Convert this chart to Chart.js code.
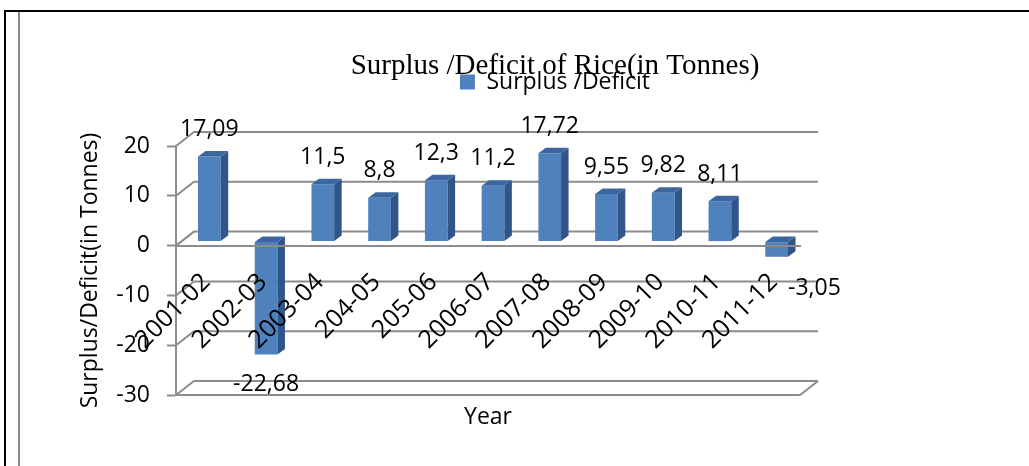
<!DOCTYPE html>
<html lang="en">
<head>
<meta charset="UTF-8">
<title>Surplus /Deficit of Rice</title>
<script src="https://cdn.jsdelivr.net/npm/chart.js"></script>
<style>
  body { margin: 0; background: #fff; }
  #wrap { position: relative; width: 1029px; height: 466px; overflow: hidden; }
  .rule { position: absolute; }
  #topRule { left: 4px; top: 10px; width: 1025px; height: 2px; background: #000; }
  #leftRule { left: 4px; top: 10px; width: 2px; height: 456px; background: #000; }
  #innerRule { left: 18px; top: 12px; width: 2px; height: 454px; background: #8a8a8a; }
  canvas { position: absolute; left: 0; top: 0; }
</style>
</head>
<body>
<div id="wrap">
  <div class="rule" id="topRule"></div>
  <div class="rule" id="leftRule"></div>
  <div class="rule" id="innerRule"></div>
  <canvas id="riceChart" width="1029" height="466"></canvas>
</div>
<script>
// data
const years = ['2001-02', '2002-03', '2003-04', '204-05', '205-06', '2006-07', '2007-08', '2008-09', '2009-10', '2010-11', '2011-12'];
const surplus = [17.09, -22.68, 11.5, 8.8, 12.3, 11.2, 17.72, 9.55, 9.82, 8.11, -3.05];
const yTicks = [-30, -20, -10, 0, 10, 20];

const GRID = '#8c8c8c';
const FONT = 'Open Sans';
const wallDepth = { dx: 18, dy: -14 };   // back wall offset
const barShift = { dx: 5, dy: -4 };      // bars sit a little behind the front plane
const barDepth = { dx: 7.5, dy: -5.5 };  // depth of each column

Chart.defaults.font.family = FONT;
Chart.defaults.color = '#000';

// fake 3D: back wall + floor, then column sides/tops and the value labels
const pseudo3d = {
    id: 'pseudo3d',
    beforeDatasetsDraw(chart) {
        const ctx = chart.ctx;
        const y = chart.scales.y;
        const { left, right } = chart.chartArea;
        ctx.save();
        ctx.strokeStyle = GRID;
        ctx.lineWidth = 2;
        yTicks.forEach(t => {
            const py = y.getPixelForValue(t);
            ctx.beginPath();
            ctx.moveTo(left, py);
            ctx.lineTo(left + wallDepth.dx, py + wallDepth.dy);
            ctx.lineTo(right + wallDepth.dx, py + wallDepth.dy);
            ctx.stroke();
        });
        // floor front edge
        const fy = y.getPixelForValue(yTicks[0]);
        ctx.beginPath();
        ctx.moveTo(left, fy);
        ctx.lineTo(right, fy);
        ctx.lineTo(right + wallDepth.dx, fy + wallDepth.dy);
        ctx.stroke();
        ctx.restore();

        ctx.save();
        ctx.translate(barShift.dx, barShift.dy);
    },
    afterDatasetsDraw(chart) {
        const ctx = chart.ctx;
        const bars = chart.getDatasetMeta(0).data;
        bars.forEach((bar, i) => {
            const p = bar.getProps(['x', 'y', 'base', 'width'], true);
            const x0 = p.x - p.width / 2, x1 = p.x + p.width / 2;
            const yTop = Math.min(p.y, p.base), yBot = Math.max(p.y, p.base);
            // side
            ctx.fillStyle = '#30558a';
            ctx.beginPath();
            ctx.moveTo(x1, yTop);
            ctx.lineTo(x1 + barDepth.dx, yTop + barDepth.dy);
            ctx.lineTo(x1 + barDepth.dx, yBot + barDepth.dy);
            ctx.lineTo(x1, yBot);
            ctx.closePath();
            ctx.fill();
            // top
            ctx.fillStyle = '#3b679e';
            ctx.beginPath();
            ctx.moveTo(x0, yTop);
            ctx.lineTo(x0 + barDepth.dx, yTop + barDepth.dy);
            ctx.lineTo(x1 + barDepth.dx, yTop + barDepth.dy);
            ctx.lineTo(x1, yTop);
            ctx.closePath();
            ctx.fill();

            // value label
            const v = surplus[i];
            const txt = String(v).replace('.', ',');
            ctx.font = '23px "' + FONT + '"';
            ctx.fillStyle = '#000';
            ctx.textBaseline = 'middle';
            if (v >= 0) {
                ctx.textAlign = 'center';
                ctx.fillText(txt, p.x, yTop - 27);
            } else if (v > -5) {
                ctx.textAlign = 'left';
                ctx.fillText(txt, x1, yBot + 32);
            } else {
                ctx.textAlign = 'center';
                ctx.fillText(txt, p.x, yBot + 30);
            }
        });
        ctx.restore();
    }
};

const ctx = document.getElementById('riceChart').getContext('2d');
new Chart(ctx, {
    type: 'bar',
    plugins: [pseudo3d],
    data: {
        labels: years,
        datasets: [{
            label: 'Surplus /Deficit',
            data: surplus,
            backgroundColor: '#4f81bd',
            borderWidth: 0,
            barPercentage: 0.4,
            categoryPercentage: 1.0
        }]
    },
    options: {
        responsive: false,
        animation: false,
        layout: { padding: { left: 81, right: 0, top: 0, bottom: 71 } },
        plugins: {
            tooltip: { enabled: false },
            legend: {
                position: 'top',
                weight: 1000,
                labels: {
                    font: { size: 23 },
                    boxWidth: 15,
                    boxHeight: 15,
                    padding: 70.5,
                    color: '#000'
                }
            },
            title: {
                display: true,
                text: 'Surplus /Deficit of Rice(in Tonnes)',
                weight: 500,
                font: { family: 'Liberation Serif', size: 29, weight: 'normal' },
                color: '#000',
                padding: { top: -54.6, bottom: 62.3 }
            }
        },
        scales: {
            x: {
                position: { y: 0 },
                grid: { display: false, drawTicks: false },
                border: { display: true, color: GRID, width: 2, z: 1 },
                ticks: {
                    z: 1,
                    font: { size: 25 },
                    color: '#000',
                    minRotation: 45,
                    maxRotation: 45,
                    autoSkip: false,
                    padding: 22,
                    labelOffset: 2
                },
                title: {
                    display: true,
                    text: 'Year',
                    font: { size: 23 },
                    color: '#000',
                    padding: { top: 0, bottom: 0 }
                },
                afterFit(scale) { scale.height = 186; }
            },
            y: {
                min: yTicks[0],
                max: yTicks[yTicks.length - 1],
                grid: {
                    drawOnChartArea: false,
                    drawTicks: true,
                    tickLength: 9,
                    tickColor: GRID,
                    tickWidth: 2
                },
                border: { display: true, color: GRID, width: 2 },
                ticks: {
                    stepSize: yTicks[1] - yTicks[0],
                    font: { size: 23 },
                    color: '#000',
                    padding: 17
                },
                title: {
                    display: true,
                    text: 'Surplus/Deficit(in Tonnes)',
                    font: { size: 23 },
                    color: '#000',
                    padding: { top: -4, bottom: 0 }
                },
                afterFit(scale) { scale.width = 95; }
            },
            yRight: {
                position: 'right',
                display: true,
                grid: { display: false },
                border: { display: false },
                ticks: { display: false },
                afterFit(scale) { scale.width = 229; }
            }
        }
    }
});
</script>
</body>
</html>
